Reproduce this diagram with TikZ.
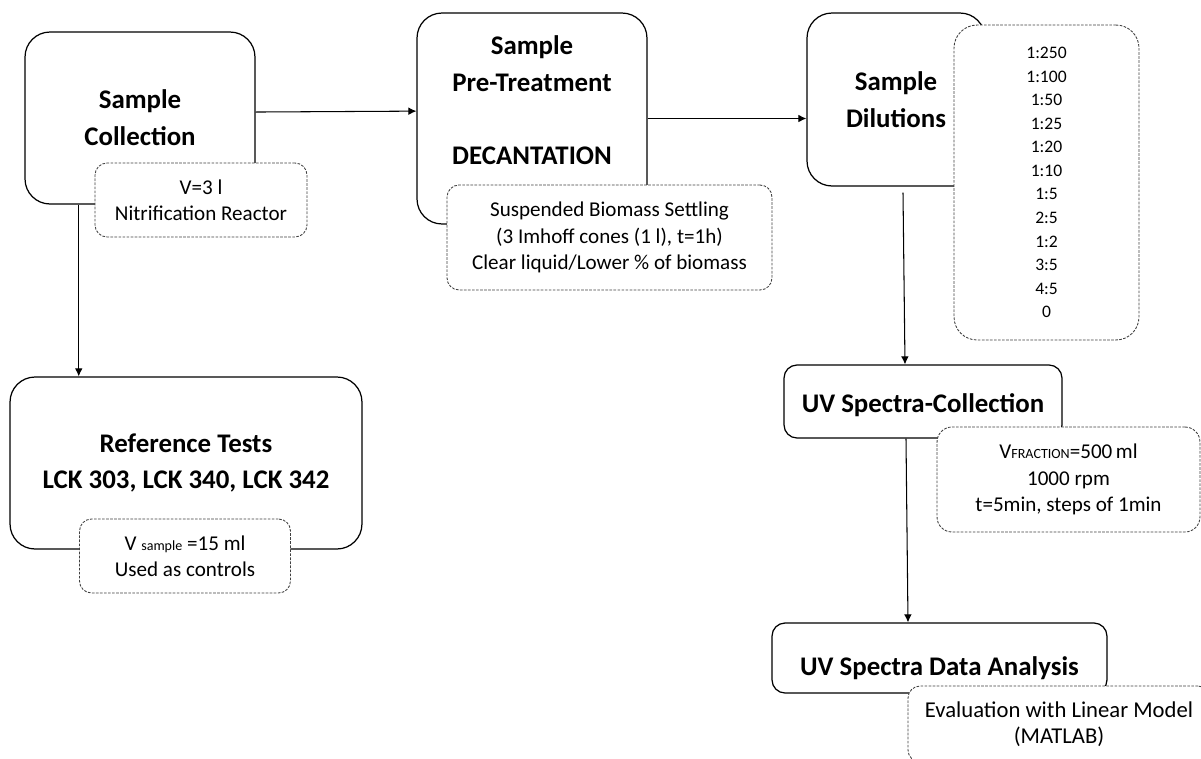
\documentclass[tikz,border=0pt]{standalone}
\usepackage{fontspec}
\setmainfont{Carlito}
\usetikzlibrary{calc,arrows.meta}

\begin{document}
\begin{tikzpicture}[x=0.02cm, y=-0.02cm, >={Latex[length=4.6pt,width=4.4pt]},
    stage/.style={draw, fill=white, line width=0.7pt, rounded corners=0.5cm,
      align=center, inner sep=0pt, font=\bfseries\fontsize{15.3}{21}\selectfont},
    note/.style={draw=black!75, fill=white, dash pattern=on 1.5pt off 0.8pt,
      line width=0.5pt, rounded corners=0.24cm, align=center, inner sep=0pt,
      font=\fontsize{12}{15}\selectfont}]
    \clip (0,0) rectangle (1201,758);
    \node[stage, minimum width=4.6cm, minimum height=3.44cm] (1) at (140,118) {Sample\\Collection};
    \node[note, minimum width=4.24cm, minimum height=1.48cm] (1b) at (201,200) {V=3 l\\Nitrification Reactor};
    \node[stage, minimum width=4.6cm, minimum height=4.22cm] (2) at (532,118.5) {Sample\\Pre-Treatment\\[21pt]DECANTATION\\ \mbox{}};
    \node[note, minimum width=6.5cm, minimum height=2.1cm] (2b) at (609.5,237.5) {Suspended Biomass Settling\\(3 Imhoff cones (1 l), t=1h)\\Clear liquid/Lower \% of biomass};
    \node[stage, minimum width=3.56cm, minimum height=3.46cm] (3) at (896,99.5) {Sample\\Dilutions};
    \node[note, rounded corners=0.46cm, minimum width=3.7cm, minimum height=6.3cm,
      font=\fontsize{10}{13.4}\selectfont] (3b) at (1046.5,182.5)
      {1:250\\1:100\\1:50\\1:25\\1:20\\1:10\\1:5\\2:5\\1:2\\3:5\\4:5\\0};
    \node[stage, minimum width=7.04cm, minimum height=3.44cm] (4) at (186,463) {Reference Tests\\LCK 303, LCK 340, LCK 342};
    \node[note, minimum width=4.22cm, minimum height=1.48cm] (4b) at (185,556) {V {\fontsize{8}{9}\selectfont sample} =15 ml\\Used as controls};
    \node[stage, rounded corners=0.26cm, minimum width=5.56cm, minimum height=1.46cm,
      text height=15pt] (5) at (923,401.5) {UV Spectra-Collection};
    \node[note, rounded corners=0.3cm, minimum width=5.26cm, minimum height=2.1cm] (5b) at (1068.5,479.5) {V{\fontsize{8}{9}\selectfont FRACTION}=500\,ml\\1000 rpm\\t=5min, steps of 1min};
    \node[stage, rounded corners=0.26cm, minimum width=6.7cm, minimum height=1.4cm,
      text height=22pt] (6) at (939.5,658) {UV Spectra Data Analysis};
    \node[note, minimum width=6.04cm, minimum height=1.52cm,
      font=\fontsize{12.9}{15}\selectfont] (6b) at (1059,724) {Evaluation with Linear Model\\(MATLAB)};
    % flow
    \begin{scope}[line width=0.6pt]
    \draw[->] ([yshift=3.4pt]1.east) -- ([yshift=4.2pt]2.west);
    \draw[->] (2.east) -- (2.east -| 3.west);
    \coordinate (p1) at ($(1.south west)!.235!(1.south east)$);
    \draw[->] (p1) -- (p1 |- 4.north);
    \draw[->] ($(3.south)+(7,6)$) -- ($(5.north)+(-18,0)$);
    \draw[->] ($(5.south)+(-17,0)$) -- ($(6.north)+(-31.5,0)$);
    \end{scope}
\end{tikzpicture}
\end{document}
